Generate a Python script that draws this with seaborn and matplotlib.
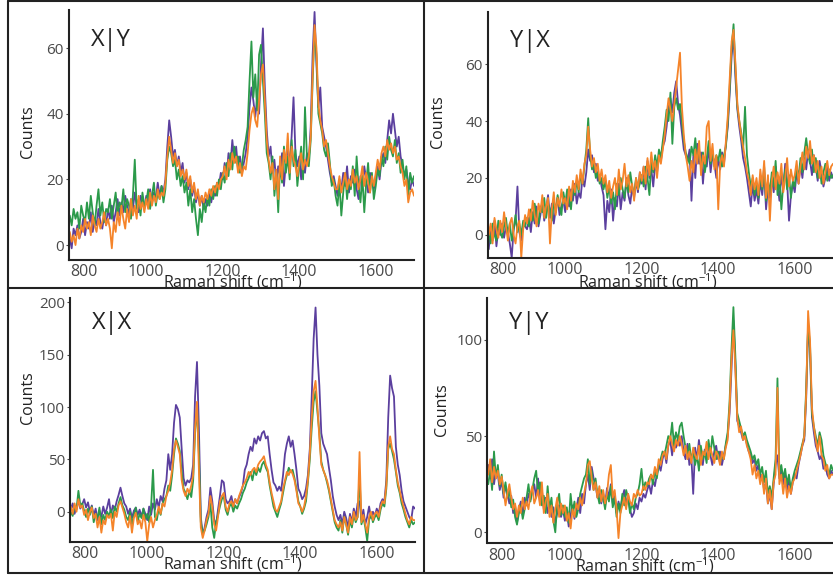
import numpy as np
import pandas as pd
import matplotlib
matplotlib.use("Agg")
import matplotlib.pyplot as plt
import seaborn as sns
from matplotlib.lines import Line2D
from matplotlib.transforms import Bbox

sns.set_style("white")
plt.rcParams["font.family"] = ["Open Sans", "DejaVu Sans"]
plt.rcParams["mathtext.fontset"] = "custom"
plt.rcParams["mathtext.rm"] = "Open Sans"
plt.rcParams["mathtext.it"] = "Open Sans:italic"

# Raman shift sampling (cm^-1), 800 ... 1700 in 5 cm^-1 steps
shift = np.arange(800, 1701, 5)

run_names = ["run 1", "run 2", "run 3"]
run_colors = ["#5b3f9e", "#2b9a4a", "#f5842a"]

# ---------------- X|Y ----------------
xy_run1 = [2, -1, 5, 3, 6, 2, 4, 8, 3, 7, 5, 10, 4, 8, 6, 11, 7, 5, 9, 6,
           11, 8, 12, 7, 10, 14, 9, 13, 10, 15, 12, 9, 14, 11, 16, 12, 10, 15, 13, 11,
           15, 12, 17, 13, 16, 14, 19, 15, 18, 16, 20, 30, 38, 33, 27, 29, 24, 27, 22, 25,
           19, 22, 17, 20, 15, 18, 13, 16, 12, 15, 11, 14, 12, 16, 13, 17, 15, 19, 18, 22,
           20, 25, 21, 28, 24, 32, 26, 30, 23, 27, 22, 25, 28, 33, 42, 48, 44, 39, 45, 40,
           55, 66, 48, 35, 27, 30, 22, 26, 19, 24, 21, 28, 18, 25, 30, 24, 33, 45, 28, 24,
           27, 20, 25, 22, 28, 26, 36, 58, 71, 55, 42, 48, 36, 33, 30, 26, 22, 19, 21, 18,
           15, 20, 17, 22, 18, 24, 16, 21, 19, 23, 17, 14, 21, 18, 24, 20, 16, 22, 19, 17,
           21, 24, 20, 26, 28, 25, 32, 38, 34, 40, 35, 30, 33, 27, 24, 21, 23, 19, 17, 20,
           18]
xy_run2 = [9, 6, 11, 8, 10, 5, 12, 9, 7, 13, 8, 15, 10, 6, 12, 17, 9, 13, 7, 11,
           10, 14, 8, 12, 16, 9, 13, 11, 17, 10, 14, 12, 8, 15, 26, 11, 14, 9, 16, 12,
           13, 17, 11, 15, 19, 12, 16, 14, 18, 13, 17, 26, 30, 28, 24, 26, 20, 23, 18, 21,
           16, 19, 12, 17, 10, 14, 8, 3, 11, 7, 13, 10, 15, 12, 17, 14, 18, 15, 20, 17,
           22, 19, 25, 21, 28, 23, 30, 25, 27, 22, 24, 29, 32, 36, 50, 62, 45, 52, 41, 58,
           61, 50, 40, 28, 25, 20, 27, 15, 22, 10, 25, 19, 30, 22, 27, 20, 32, 24, 29, 18,
           24, 30, 20, 42, 27, 24, 32, 50, 65, 58, 40, 37, 34, 29, 27, 31, 25, 18, 20, 15,
           12, 19, 9, 16, 22, 14, 20, 17, 24, 15, 27, 18, 13, 21, 10, 19, 25, 16, 22, 14,
           18, 23, 21, 27, 24, 30, 26, 33, 29, 27, 32, 25, 28, 22, 26, 20, 24, 15, 22, 19,
           21]
xy_run3 = [4, 1, 3, 0, 5, 2, 6, 4, 8, 5, 7, 3, 9, 6, 4, 8, 5, 7, 10, 6,
           8, 5, -1, 7, 4, 10, 6, 12, 8, 5, 11, 7, 14, 9, 12, 8, 15, 11, 13, 10,
           14, 11, 16, 12, 15, 13, 17, 14, 16, 15, 19, 27, 33, 29, 25, 28, 24, 26, 21, 23,
           20, 23, 18, 21, 16, 19, 14, 17, 12, 15, 13, 16, 14, 17, 15, 18, 16, 19, 17, 20,
           21, 24, 20, 26, 23, 28, 25, 27, 22, 25, 21, 24, 23, 28, 35, 40, 42, 38, 36, 44,
           52, 55, 44, 32, 26, 22, 25, 17, 23, 14, 27, 20, 29, 25, 34, 22, 30, 26, 24, 21,
           25, 28, 23, 26, 24, 27, 33, 52, 67, 60, 43, 38, 35, 30, 32, 28, 24, 21, 19, 17,
           17, 21, 16, 19, 22, 17, 20, 18, 23, 19, 21, 17, 20, 24, 18, 22, 19, 16, 21, 18,
           22, 26, 23, 28, 30, 27, 32, 29, 31, 28, 30, 26, 27, 24, 22, 18, 20, 13, 16, 17,
           15]

# ---------------- Y|X ----------------
yx_run1 = [-5, 3, -2, 5, -4, 2, 0, 4, -1, 3, 1, -3, -8, 2, 5, 17, 1, -2, 4, 3,
           2, 6, 1, 8, 4, 10, 3, 7, 12, 5, 9, 14, 6, 11, 4, 9, 13, 7, 10, 12,
           8, 14, 10, 16, 12, 18, 11, 15, 13, 20, 17, 22, 30, 26, 28, 22, 25, 19, 21, 17,
           14, 2, 12, 8, 16, 5, 13, 10, 18, 9, 15, 12, 20, 14, 11, 17, 13, 19, 15, 22,
           18, 24, 16, 26, 20, 23, 17, 25, 22, 28, 26, 31, 33, 38, 45, 48, 43, 50, 54, 46,
           42, 36, 30, 28, 26, 30, 12, 28, 20, 32, 25, 29, 18, 27, 24, 31, 22, 28, 25, 20,
           27, 23, 29, 25, 32, 38, 50, 63, 70, 55, 44, 38, 33, 27, 24, 20, 15, 10, 18, 12,
           16, 11, 19, 14, 22, 9, 17, 13, 20, 15, 24, 18, 12, 21, 16, 25, 19, 5, 14, 18,
           15, 22, 18, 25, 20, 27, 23, 30, 26, 21, 28, 24, 19, 26, 22, 17, 20, 24, 19, 22,
           20]
yx_run2 = [2, -3, 4, 0, -2, 5, 1, -1, 3, 6, 0, 4, -2, 2, 7, 1, 4, 0, 5, 3,
           6, 3, 9, 5, 11, 7, 4, 10, 8, 13, 6, 11, 9, 5, 12, 8, 14, 10, 7, 15,
           11, 16, 13, 9, 17, 14, 19, 15, 21, 18, 24, 30, 41, 28, 23, 25, 20, 22, 18, 20,
           16, 19, 13, 17, 11, 15, 9, 18, 14, 20, 16, 13, 19, 15, 22, 17, 14, 20, 16, 18,
           21, 17, 24, 20, 14, 26, 22, 28, 24, 30, 27, 33, 38, 44, 40, 50, 32, 45, 48, 44,
           46, 40, 33, 29, 27, 25, 31, 28, 34, 26, 30, 24, 29, 22, 27, 33, 25, 29, 24, 28,
           26, 30, 24, 28, 31, 40, 52, 66, 74, 58, 45, 40, 36, 30, 45, 28, 22, 17, 20, 14,
           18, 13, 21, 16, 24, 12, 19, 15, 22, 17, 26, 14, 20, 9, 18, 23, 16, 21, 13, 19,
           17, 24, 20, 27, 22, 29, 34, 28, 25, 30, 22, 27, 20, 24, 18, 22, 25, 19, 23, 20,
           21]
yx_run3 = [0, 4, -3, 6, 2, -1, 5, 1, 8, 3, -2, 4, 6, 0, -3, 3, 5, -8, 2, 7,
           4, 9, 5, 12, 7, 3, 11, 8, 14, 6, 10, 13, -3, 9, 15, 7, 13, 10, 16, 11,
           13, 9, 17, 12, 19, 15, 21, 16, 23, 18, 25, 28, 38, 30, 24, 27, 22, 25, 19, 23,
           18, 21, 15, 19, 13, 17, 20, 14, 23, 16, 19, 25, 17, 21, 15, 18, 12, 20, 16, 22,
           19, 24, 18, 27, 21, 29, 23, 26, 20, 28, 25, 30, 35, 42, 48, 44, 40, 46, 52, 58,
           64, 45, 35, 28, 24, 19, 26, 22, 30, 25, 33, 21, 28, 25, 38, 40, 26, 32, 23, 28,
           9, 25, 28, 24, 33, 42, 55, 68, 72, 60, 46, 40, 35, 31, 27, 22, 19, 14, 21, 16,
           20, 14, 23, 17, 26, 13, 21, 5, 19, 24, 16, 22, 18, 25, 15, 20, 27, 17, 23, 19,
           21, 26, 18, 24, 29, 23, 31, 27, 33, 25, 28, 22, 26, 20, 24, 18, 22, 26, 21, 24,
           25]

# ---------------- X|X ----------------
xx_run1 = [2, 8, -2, 5, 10, 3, 7, 12, 4, 9, 0, 6, -4, 3, -8, 1, -5, 5, -2, 4,
           12, -3, 6, 2, 10, 16, 23, 15, 8, 5, -2, 3, -6, 1, 4, -3, 2, -5, 3, -2,
           -8, 5, -3, 8, 2, 12, 4, 15, 10, 22, 30, 55, 40, 55, 85, 102, 98, 90, 60, 32,
           25, 30, 28, 32, 45, 110, 143, 80, -5, -22, -15, -5, 2, 23, 10, -8, -12, 2, 15, 30,
           28, 12, 8, 10, 15, 5, 12, 8, 14, 18, 25, 40, 45, 55, 62, 58, 70, 65, 72, 68,
           75, 77, 70, 72, 55, 40, 28, 25, 20, 24, 20, 35, 55, 65, 72, 62, 68, 55, 40, 22,
           18, 12, 15, 22, 35, 60, 110, 165, 195, 150, 120, 75, 65, 60, 55, 42, 30, 15, 5, -3,
           -8, -3, -12, 0, -6, -15, -2, -10, 3, -5, 8, 10, -8, 2, -12, -5, 5, -6, 0, -4,
           3, -2, 8, 12, 10, 30, 90, 130, 118, 110, 62, 45, 35, 20, 10, 5, 0, -5, -8, 5,
           3]
xx_run2 = [0, -4, 5, 2, 20, 6, 8, 1, -5, 3, -3, 5, -10, -2, -6, 4, -12, -3, -8, 0,
           -4, 2, -6, 5, 0, 8, 14, 6, 2, -5, -8, 0, -12, -3, 4, -9, -2, -6, 3, -7,
           -2, -10, 5, 40, -5, -8, 3, -3, 8, 12, 15, 25, 20, 35, 55, 70, 65, 58, 38, 22,
           18, 12, 20, 14, 30, 75, 100, 55, -10, -20, -18, -12, -5, 8, -15, -25, -10, -3, 5, 12,
           15, 2, -3, 5, 8, 0, 6, 3, 8, 12, 18, 22, 28, 32, 38, 30, 40, 35, 42, 38,
           45, 48, 42, 38, 25, 15, 5, 0, -5, 2, 8, 18, 28, 35, 42, 38, 40, 32, 22, 10,
           5, -2, 3, 10, 28, 50, 80, 105, 115, 95, 75, 48, 40, 35, 28, 20, 10, 0, -10, -15,
           -18, -8, -20, -5, -12, -22, -8, -15, -3, -10, -5, 35, -12, -5, -15, -28, -8, -2, -10, -5,
           -3, -8, 2, 8, 5, 22, 60, 65, 58, 50, 38, 25, 18, 8, 2, -5, -10, -15, -8, -12,
           -10]
xx_run3 = [5, -2, 8, 0, 12, 4, 6, -3, 2, -8, 0, 4, -6, -2, -15, -5, -20, -8, -12, -3,
           -6, -2, -18, 0, -5, 6, 10, 4, -2, -10, -15, -4, -20, -6, -1, -12, -8, -16, -3, -10,
           -28, -12, -5, -15, -8, -3, 5, -2, 8, 5, 15, 20, 28, 40, 60, 68, 62, 55, 30, 20,
           15, 22, 18, 25, 35, 80, 105, 40, -15, -25, -18, -8, -2, 15, 5, -12, -18, -5, 10, 15,
           18, 5, 0, 8, 10, 5, 12, 8, 15, 20, 25, 28, 32, 38, 35, 40, 42, 38, 45, 48,
           50, 53, 45, 40, 28, 18, 10, 2, 0, 5, 10, 22, 30, 38, 35, 40, 36, 30, 20, 8,
           5, 0, 5, 15, 30, 55, 90, 115, 125, 100, 70, 45, 40, 35, 30, 22, 12, 2, -8, -12,
           -15, -10, -18, -5, -12, -20, -5, -12, 0, -8, -5, 57, -10, -3, -12, -20, -5, 0, -8, -2,
           0, -5, 5, 10, 8, 25, 62, 72, 60, 55, 40, 28, 20, 12, 5, -2, -8, -12, -5, -8,
           -8]

# ---------------- Y|Y ----------------
yy_run1 = [35, 28, 38, 25, 32, 30, 22, 27, 18, 24, 20, 15, 19, 10, 14, 5, 12, 16, 9, 18,
           14, 20, 17, 22, 25, 18, 28, 15, 22, 12, 18, 10, 15, 8, 13, 5, 10, 14, 8, 12,
           6, 11, 3, 9, 14, 7, 12, 18, 10, 20, 15, 25, 30, 22, 34, 28, 25, 18, 22, 15,
           20, 14, 23, 18, 25, 15, 20, 10, 16, 12, 18, 22, 14, 20, 12, 8, 10, 15, 12, 18,
           16, 20, 18, 22, 25, 20, 27, 24, 30, 35, 32, 38, 42, 36, 45, 48, 40, 50, 44, 48,
           45, 50, 42, 38, 46, 35, 40, 20, 44, 38, 48, 40, 35, 43, 38, 46, 40, 35, 42, 45,
           38, 42, 35, 40, 45, 50, 62, 85, 110, 88, 58, 55, 52, 48, 50, 46, 42, 40, 36, 38,
           32, 35, 28, 30, 22, 26, 15, 20, 12, 25, 35, 40, 28, 32, 25, 30, 22, 28, 20, 26,
           30, 28, 35, 40, 45, 48, 70, 107, 95, 60, 52, 45, 42, 38, 40, 33, 35, 30, 28, 32,
           30]
yy_run2 = [25, 32, 22, 42, 28, 35, 24, 30, 20, 26, 18, 22, 13, 17, 8, 4, 10, 14, 7, 12,
           18, 25, 16, 22, 28, 32, 20, 26, 14, 19, 10, 24, 12, 18, 6, 0, 15, 20, 9, 14,
           8, 13, 5, 20, 10, 16, 8, 12, 20, 24, 28, 30, 38, 25, 32, 22, 28, 20, 15, 22,
           18, 12, 20, 16, 24, 13, 18, 8, 15, 10, 20, 14, 22, 18, 10, 15, 12, 18, 20, 25,
           33, 22, 26, 24, 28, 30, 25, 32, 28, 35, 38, 42, 40, 45, 50, 48, 57, 45, 52, 48,
           55, 57, 50, 44, 40, 46, 38, 42, 35, 40, 32, 45, 38, 42, 36, 48, 40, 50, 44, 38,
           42, 36, 40, 38, 46, 52, 68, 95, 117, 92, 62, 58, 54, 50, 52, 48, 45, 42, 38, 40,
           35, 38, 30, 34, 26, 32, 20, 24, 18, 28, 38, 80, 30, 35, 28, 33, 25, 30, 22, 28,
           32, 35, 38, 42, 46, 50, 75, 107, 98, 62, 55, 50, 45, 52, 48, 40, 36, 33, 30, 35,
           32]
yy_run3 = [30, 38, 26, 34, 28, 32, 25, 29, 22, 14, 20, 25, 18, 12, 15, 8, 14, 10, 18, 12,
           16, 12, 20, 24, 15, 18, 22, 14, 26, 10, 16, 20, 8, 14, 5, 12, 18, 8, 15, 10,
           14, 6, 10, 2, 12, 8, 15, 12, 18, 14, 20, 25, 35, 37, 28, 22, 26, 18, 24, 16,
           22, 15, 20, 30, 35, 18, 22, 12, -3, 10, 14, 18, 12, 20, 16, 14, 20, 18, 22, 19,
           20, 24, 22, 26, 25, 30, 28, 34, 30, 38, 35, 40, 42, 38, 45, 50, 46, 42, 48, 45,
           50, 46, 40, 45, 38, 42, 36, 44, 40, 38, 45, 35, 42, 40, 47, 38, 44, 40, 36, 42,
           40, 35, 42, 38, 44, 48, 65, 90, 105, 85, 60, 52, 55, 48, 50, 45, 42, 38, 30, 35,
           28, 32, 25, 30, 20, 28, 15, 22, 12, 26, 30, 75, 25, 30, 20, 28, 18, 24, 20, 26,
           28, 32, 36, 40, 45, 50, 72, 115, 100, 65, 55, 48, 42, 50, 40, 38, 32, 35, 28, 30,
           30]

W, H = 833, 575
fig = plt.figure(figsize=(W / 100, H / 100), dpi=100)


def fx(px):
    return px / W


def fy(py):
    return 1 - py / H


# panel: title, runs, ylim, yticks, axes box in pixels (left, top, right, bottom),
#        "Counts" centre, x-label centre/baseline, clip box (x0, y0, x1, y1)
panels = [
    ("X|Y", [xy_run1, xy_run2, xy_run3], (-4.4, 71.6), [0, 20, 40, 60],
     (69, 10, 414, 259.5), (28, 132), (233, 287.5), (8, 1, 423, 287)),
    ("Y|X", [yx_run1, yx_run2, yx_run3], (-8.1, 78.4), [0, 20, 40, 60],
     (488, 11.7, 833, 258), (438, 122), (648, 287.5), (423, 1, 833, 287)),
    ("X|X", [xx_run1, xx_run2, xx_run3], (-28.6, 203.8), [0, 50, 100, 150, 200],
     (70, 298.3, 415, 541.7), (28, 398), (233, 570), (8, 288, 423, 573)),
    ("Y|Y", [yy_run1, yy_run2, yy_run3], (-5.7, 121.6), [0, 50, 100],
     (487.5, 298.3, 833, 543.3), (442, 410), (645, 571), (423, 288, 833, 573)),
]

ink = "#222222"
tick_grey = "#4a4a4a"

for title, runs, ylim, yticks, box, cpos, xlpos, clip in panels:
    l, t, r, b = box
    ax = fig.add_axes([fx(l), fy(b), fx(r) - fx(l), fy(t) - fy(b)])
    df = pd.DataFrame({
        "shift": np.tile(shift, 3),
        "counts": np.concatenate([np.asarray(v, float) for v in runs]),
        "run": np.repeat(run_names, len(shift)),
    })
    sns.lineplot(data=df, x="shift", y="counts", hue="run", hue_order=run_names,
                 palette=run_colors, estimator=None, sort=False, legend=False,
                 linewidth=1.3, ax=ax)
    ax.set_xlim(798, 1700)
    ax.set_ylim(*ylim)
    ax.set_xlabel("")
    ax.set_ylabel("")
    for s in ("top", "right"):
        ax.spines[s].set_visible(False)
    for s in ("left", "bottom"):
        ax.spines[s].set_color(ink)
        ax.spines[s].set_linewidth(1.5)
    ax.set_xticks([800, 1000, 1200, 1400, 1600])
    ax.set_xticklabels(["800", "1000", "1200", "1400", "1600"])
    ax.get_xticklabels()[0].set_horizontalalignment("left")
    ax.set_yticks(yticks)
    ax.set_yticklabels([str(v) for v in yticks])
    ax.tick_params(axis="x", length=0, pad=3.2, labelsize=11.5, labelcolor=tick_grey)
    ax.tick_params(axis="y", length=2.5, width=0.8, color=tick_grey, pad=1.2,
                   labelsize=11, labelcolor=tick_grey, left=True)
    ax.set_facecolor("none")
    ax.text(0.063, 0.90 if t > 100 else 0.88, title, transform=ax.transAxes,
            fontsize=17, ha="left", va="center", color=ink)

    fig.text(fx(cpos[0]), fy(cpos[1]), "Counts", rotation=90, ha="center",
             va="center", fontsize=11.5, color=ink)
    xl = fig.text(fx(xlpos[0]), fy(xlpos[1]), "Raman shift (cm$^{-1}$)",
                  ha="center", va="baseline", fontsize=11.5, color=ink)
    x0, y0, x1, y1 = clip
    xl.set_clip_box(Bbox([[x0, H - y1], [x1, H - y0]]))
    xl.set_clip_on(True)

# panel frame
frame = dict(color=ink, linewidth=1.5, transform=fig.transFigure)
for xs, ys in [((8, 833), (1, 1)), ((8, 833), (287.5, 287.5)), ((8, 833), (573, 573)),
               ((8, 8), (1, 573)), ((423.5, 423.5), (1, 573))]:
    fig.add_artist(Line2D([fx(xs[0]), fx(xs[1])], [fy(ys[0]), fy(ys[1])], **frame))

fig.savefig("out.png", dpi=100, facecolor="white")
